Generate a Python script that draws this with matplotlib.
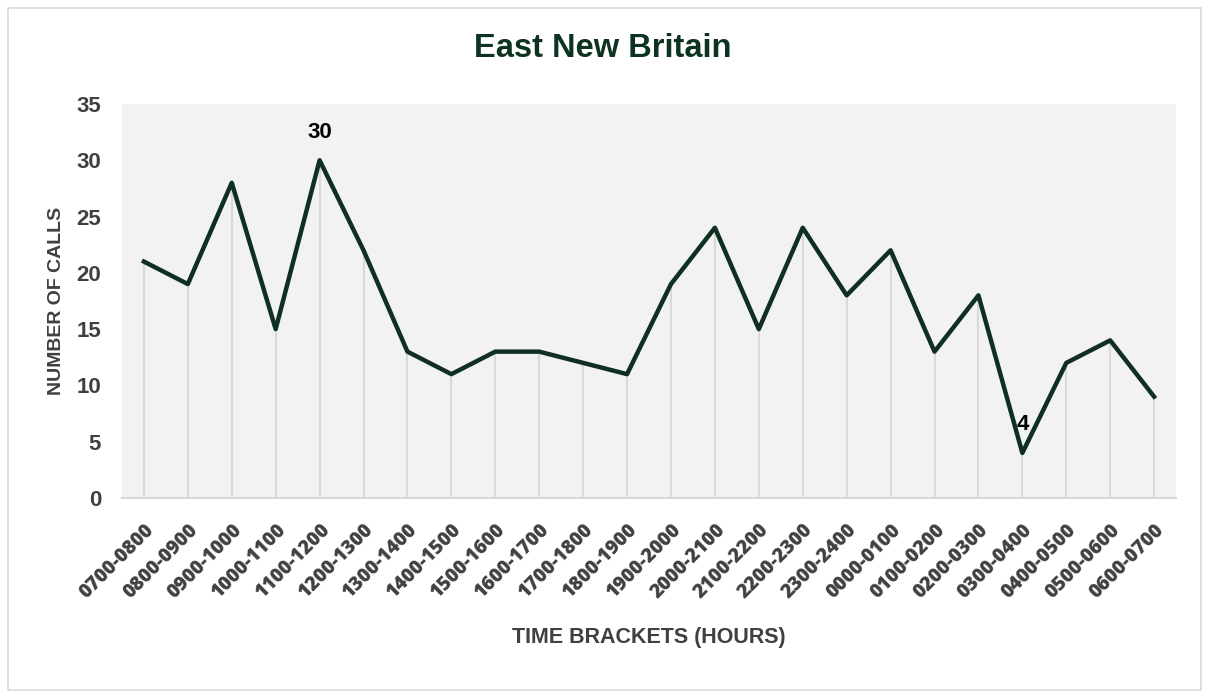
import matplotlib.pyplot as plt
from matplotlib.patches import Rectangle

# data
brackets = ['0700-0800', '0800-0900', '0900-1000', '1000-1100', '1100-1200', '1200-1300',
            '1300-1400', '1400-1500', '1500-1600', '1600-1700', '1700-1800', '1800-1900',
            '1900-2000', '2000-2100', '2100-2200', '2200-2300', '2300-2400', '0000-0100',
            '0100-0200', '0200-0300', '0300-0400', '0400-0500', '0500-0600', '0600-0700']
calls = [21, 19, 28, 15, 30, 22, 13, 11, 13, 13, 12, 11,
         19, 24, 15, 24, 18, 22, 13, 18, 4, 12, 14, 9]
y_ticks = [0, 5, 10, 15, 20, 25, 30, 35]

line_col = '#0f2f20'
text_col = '#404040'

fig = plt.figure(figsize=(12.05, 6.93), dpi=100)
ax = fig.add_axes([0.1012, 0.2814, 0.8748, 0.5686])

# outer chart border
fig.patches.append(Rectangle((0.007, 0.005), 0.99, 0.984, transform=fig.transFigure,
                             fill=False, edgecolor='#d9d9d9', linewidth=1.2))

ax.set_facecolor('#f2f2f2')
x = list(range(len(calls)))

# drop lines
ax.vlines(x, 0, calls, color='#d9d9d9', linewidth=1.5, zorder=1)
ax.plot(x, calls, color=line_col, linewidth=3.2, solid_joinstyle='round', zorder=3)

# labels for max and min
imax = calls.index(max(calls))
imin = calls.index(min(calls))
ax.text(imax, max(calls) + 2.0, str(max(calls)), ha='center', va='baseline',
        fontsize=16, fontweight='bold', family='Liberation Sans', color='black')
ax.text(imin, min(calls) + 2.0, str(min(calls)), ha='center', va='baseline',
        fontsize=16, fontweight='bold', family='Liberation Sans', color='black', zorder=4)

ax.set_xlim(-0.5, len(calls) - 0.5)
ax.set_ylim(0, 35)
ax.set_yticks(y_ticks)
ax.set_yticklabels([str(v) for v in y_ticks], fontsize=16, fontweight='bold',
                   family='Liberation Sans', color=text_col)
ax.set_xticks(x)
ax.set_xticklabels(brackets, rotation=45, ha='right', rotation_mode='anchor',
                   fontsize=14, fontweight='heavy', family='Open Sans', color=text_col)
ax.tick_params(axis='both', length=0)
ax.tick_params(axis='y', pad=15)
ax.tick_params(axis='x', pad=16)

for side in ['top', 'right', 'left']:
    ax.spines[side].set_visible(False)
ax.spines['bottom'].set_color('#d9d9d9')
ax.spines['bottom'].set_linewidth(1.5)

ax.set_xlabel('TIME BRACKETS (HOURS)', fontsize=15.5, fontweight='bold',
              family='Liberation Sans', color=text_col, labelpad=17)
ax.set_ylabel('NUMBER OF CALLS', fontsize=14, fontweight='bold',
              family='Liberation Sans', color=text_col, labelpad=8)

fig.text(0.5, 0.93, 'East New Britain', ha='center', va='center', fontsize=23.5,
         fontweight='bold', family='Liberation Sans', color='#0d3321')

fig.savefig('out.png', dpi=100)
